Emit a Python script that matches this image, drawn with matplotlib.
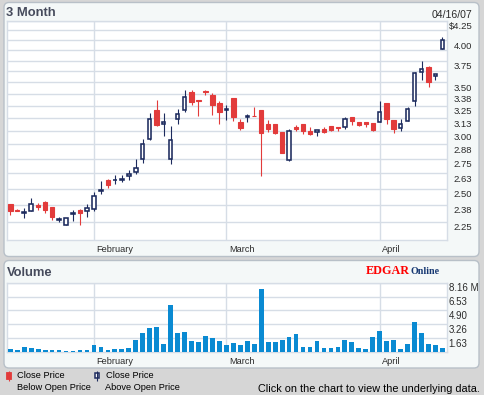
import matplotlib
matplotlib.use('Agg')
import matplotlib.pyplot as plt
from matplotlib.patches import Rectangle, FancyBboxPatch
from matplotlib.ticker import NullLocator
import pandas as pd

W, H, DPI = 484, 395, 100

# ---------------- data ----------------
holidays = ['2007-02-19', '2007-04-06']
dates = [d for d in pd.bdate_range('2007-01-16', '2007-04-16')
         if d.strftime('%Y-%m-%d') not in holidays]

opens = [2.385, 2.335, 2.318, 2.331, 2.373, 2.393, 2.360, 2.266, 2.229, 2.309,
         2.333, 2.331, 2.346, 2.482, 2.570, 2.568, 2.570, 2.602, 2.634, 2.750,
         2.929, 3.205, 3.069, 2.750, 3.118, 3.205, 3.397, 3.312, 3.402, 3.365,
         3.276, 3.210, 3.326, 3.092, 3.140, 3.150, 3.205, 3.072, 3.063, 2.994,
         2.741, 3.036, 3.063, 3.003, 2.994, 3.023, 3.046, 3.043, 3.036, 3.132,
         3.089, 3.089, 3.079, 3.085, 3.276, 3.102, 3.026, 3.099, 3.303, 3.617,
         3.670, 3.576, 3.887]
highs = [2.385, 2.342, 2.353, 2.430, 2.391, 2.401, 2.360, 2.282, 2.277, 2.334,
         2.341, 2.385, 2.477, 2.5625, 2.581, 2.609, 2.609, 2.649, 2.750, 2.923,
         3.181, 3.306, 3.181, 3.053, 3.215, 3.419, 3.419, 3.312, 3.419, 3.382,
         3.296, 3.257, 3.336, 3.112, 3.170, 3.236, 3.205, 3.102, 3.072, 2.994,
         3.023, 3.059, 3.063, 3.036, 3.013, 3.036, 3.053, 3.043, 3.139, 3.139,
         3.089, 3.089, 3.079, 3.296, 3.276, 3.102, 3.112, 3.233, 3.621, 3.746,
         3.685, 3.598, 4.042]
lows = [2.300, 2.328, 2.277, 2.331, 2.336, 2.311, 2.262, 2.248, 2.229, 2.255,
        2.226, 2.287, 2.328, 2.458, 2.505, 2.536, 2.552, 2.573, 2.620, 2.711,
        2.914, 3.053, 2.952, 2.702, 3.066, 3.188, 3.260, 3.146, 3.358, 3.156,
        3.066, 3.105, 3.095, 3.007, 3.085, 3.146, 2.599, 2.988, 2.970, 2.801,
        2.732, 3.003, 2.970, 2.961, 2.952, 2.982, 2.997, 2.997, 3.023, 3.056,
        3.046, 3.039, 3.000, 3.085, 3.072, 2.979, 3.000, 3.099, 3.250, 3.530,
        3.445, 3.523, 3.887]
closes = [2.330, 2.330, 2.322, 2.382, 2.358, 2.336, 2.287, 2.268, 2.277, 2.313,
          2.314, 2.353, 2.445, 2.486, 2.529, 2.572, 2.578, 2.620, 2.670, 2.875,
          3.119, 3.059, 3.089, 2.920, 3.170, 3.342, 3.289, 3.299, 3.398, 3.260,
          3.188, 3.214, 3.135, 3.026, 3.144, 3.146, 2.979, 3.016, 2.979, 2.801,
          3.000, 3.016, 2.997, 2.970, 3.013, 2.991, 3.010, 3.026, 3.118, 3.095,
          3.059, 3.066, 3.010, 3.191, 3.115, 3.023, 3.069, 3.215, 3.606, 3.651,
          3.508, 3.598, 4.000]
volumes = [0.32, 0.20, 0.55, 0.43, 0.32, 0.20, 0.20, 0.20, 0.08, 0.08,
           0.20, 0.20, 0.79, 0.55, 0.20, 0.32, 0.32, 0.43, 1.38, 2.25,
           2.80, 2.92, 0.91, 5.52, 2.21, 2.32, 1.26, 1.14, 1.85, 1.62,
           1.26, 0.79, 1.02, 0.79, 1.26, 0.91, 7.41, 1.14, 1.14, 1.38,
           1.73, 2.09, 0.55, 0.55, 1.26, 0.43, 0.43, 0.55, 1.38, 1.14,
           0.43, 0.32, 1.73, 2.44, 1.26, 1.38, 0.32, 0.91, 3.51, 2.21,
           0.91, 0.79, 0.43]

price_grid = [2.25, 2.375, 2.5, 2.625, 2.75, 2.875, 3.0, 3.125, 3.25, 3.375,
              3.5, 3.625, 3.75, 3.875, 4.0, 4.125, 4.25]
price_ticks = [4.25, 4.0, 3.75, 3.5, 3.375, 3.25, 3.125, 3.0, 2.875, 2.75,
               2.625, 2.5, 2.375, 2.25]
price_tick_labels = ['$4.25', '4.00', '3.75', '3.50', '3.38', '3.25', '3.13',
                     '3.00', '2.88', '2.75', '2.63', '2.50', '2.38', '2.25']
price_range = [2.125, 4.25]
volume_ticks = [1.63, 3.26, 4.90, 6.53, 8.16]
volume_tick_labels = ['1.63', '3.26', '4.90', '6.53', '8.16 M']

# ---------------- style ----------------
RED = '#e23b3b'
NAVY = '#1d2b5e'
VBLUE = '#0a8ad2'
GRID = '#d6dde6'
BG = '#d6d6d6'
PANEL = '#f4f8f8'
PANEL_EDGE = '#b8c0c8'
TITLE_C = '#464b5c'
TXT = '#2b2b2b'
FONT = 'Liberation Sans'

plt.rcParams['font.family'] = [FONT, 'DejaVu Sans']

fig = plt.figure(figsize=(W / DPI, H / DPI), dpi=DPI)
fig.patch.set_facecolor(BG)

bg = fig.add_axes([0, 0, 1, 1], zorder=0)
bg.set_xlim(0, W)
bg.set_ylim(H, 0)
bg.axis('off')

for (x0, y0, x1, y1) in [(4, 2.5, 479, 256.5), (4, 260.5, 479, 368)]:
    bg.add_patch(FancyBboxPatch((x0, y0), x1 - x0, y1 - y0,
                                boxstyle='round,pad=0,rounding_size=5',
                                facecolor=PANEL, edgecolor=PANEL_EDGE, lw=1))

n = len(dates)
idx = list(range(n))
month_starts = [i for i in range(1, n) if dates[i].month != dates[i - 1].month]
month_names = [dates[i].strftime('%B') for i in month_starts]

PL, PR = 6.5, 446.7
xlim = (-0.545, 62.61)


def axes_px(x0, y0, x1, y1):
    return fig.add_axes([x0 / W, 1 - y1 / H, (x1 - x0) / W, (y1 - y0) / H], zorder=1)


def style_axes(ax):
    ax.set_facecolor('white')
    for s in ax.spines.values():
        s.set_color(GRID)
        s.set_linewidth(1)
    ax.tick_params(length=0, labelleft=False, labelbottom=False)
    ax.set_xlim(*xlim)
    ax.set_xticks(month_starts)
    ax.grid(True, color=GRID, lw=1)
    ax.set_axisbelow(True)
    for name, i in zip(month_names, month_starts):
        ax.annotate(name, xy=(i, 0), xycoords=('data', 'axes fraction'),
                    xytext=(2.5, -10), textcoords='offset pixels',
                    ha='left', va='center', fontsize=6.6, color=TXT)


# ---- price panel ----
ax = axes_px(PL, 21, PR, 240)
ax.set_yscale('log', base=2)
ax.set_ylim(*price_range)
ax.set_yticks(price_grid)
ax.yaxis.set_minor_locator(NullLocator())
style_axes(ax)
for v, lab in zip(price_ticks, price_tick_labels):
    ax.annotate(lab, xy=(1, v), xycoords=('axes fraction', 'data'),
                xytext=(25.5, -6), textcoords='offset pixels',
                ha='right', va='center', fontsize=6.8, color=TXT)

for i, o, h, l, c in zip(idx, opens, highs, lows, closes):
    up = c >= o
    col = NAVY if up else RED
    ax.vlines(i, l, h, color=col, lw=0.8, zorder=3)
    lo, hi = min(o, c), max(o, c)
    if up:
        ax.add_patch(Rectangle((i - 0.25, lo), 0.5, hi - lo, facecolor='white',
                               edgecolor=NAVY, lw=1.15, zorder=4))
    else:
        ax.add_patch(Rectangle((i - 0.32, lo), 0.64, hi - lo, facecolor=RED,
                               edgecolor=RED, lw=0.8, zorder=4))

# ---- volume panel ----
vx = axes_px(PL, 282.7, PR, 352)
vx.set_ylim(0, volume_ticks[-1])
vx.set_yticks(volume_ticks)
style_axes(vx)
vx.bar(idx, volumes, width=0.68, color=VBLUE, zorder=3)
for v, lab in zip(volume_ticks, volume_tick_labels):
    vx.annotate(lab, xy=(1, v), xycoords=('axes fraction', 'data'),
                xytext=(2, -5.5), textcoords='offset pixels',
                ha='left', va='center', fontsize=7, color=TXT)

# ---- titles and texts ----
bg.text(5.5, 12.8, '3 Month', fontsize=9.4, fontweight='bold', color=TITLE_C,
        ha='left', va='center')
bg.text(6.5, 273, 'Volume', fontsize=9.4, fontweight='bold', color=TITLE_C,
        ha='left', va='center')
bg.text(472, 14.5, dates[-1].strftime('%m/%d/%y'), fontsize=7.6, color=TXT,
        ha='right', va='center')
bg.text(366, 271, 'EDGAR', fontsize=8.7, fontweight='bold', color='#ff0000',
        family='Liberation Serif', ha='left', va='center')
bg.text(410.5, 272, 'Online', fontsize=7.2, fontweight='bold', color='#163872',
        family='Liberation Serif', ha='left', va='center')

# ---- legend ----
bg.vlines(8.5, 370.5, 380.5, color=RED, lw=0.8)
bg.add_patch(Rectangle((6.3, 372), 4.4, 6.5, facecolor=RED, edgecolor=RED, lw=0.6))
bg.vlines(96.5, 370.5, 380.5, color=NAVY, lw=0.8)
bg.add_patch(Rectangle((94.5, 372.5), 4, 5.5, facecolor='white', edgecolor=NAVY, lw=1.1))
bg.text(17, 375.5, 'Close Price', fontsize=6.7, color='black', ha='left', va='center')
bg.text(17, 387.5, 'Below Open Price', fontsize=6.7, color='black', ha='left', va='center')
bg.text(105.5, 375.5, 'Close Price', fontsize=6.7, color='black', ha='left', va='center')
bg.text(105, 387.5, 'Above Open Price', fontsize=6.7, color='black', ha='left', va='center')
bg.text(480, 388.5, 'Click on the chart to view the underlying data.', fontsize=7.8,
        color='black', ha='right', va='center')

fig.savefig('out.png', dpi=DPI, facecolor=BG)
